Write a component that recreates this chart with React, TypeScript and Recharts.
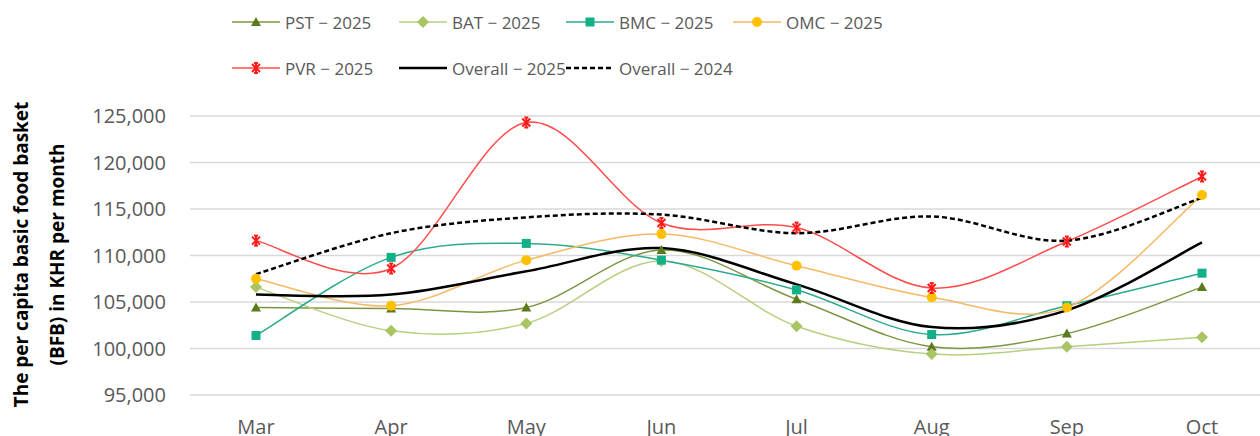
import { LineChart, Line, XAxis, YAxis, CartesianGrid } from "recharts";

const months = ["Mar", "Apr", "May", "Jun", "Jul", "Aug", "Sep", "Oct"];
const pst2025 = [104400, 104300, 104400, 110600, 105300, 100200, 101600, 106600];
const bat2025 = [106600, 101900, 102700, 109400, 102400, 99400, 100200, 101200];
const bmc2025 = [101400, 109800, 111300, 109500, 106300, 101500, 104600, 108100];
const omc2025 = [107500, 104600, 109500, 112300, 108900, 105500, 104400, 116500];
const pvr2025 = [111600, 108600, 124300, 113500, 113000, 106500, 111500, 118500];
const overall2025 = [105800, 105800, 108300, 110800, 106900, 102300, 104100, 111400];
const overall2024 = [108000, 112400, 114100, 114400, 112400, 114200, 111600, 116200];
const yTicks = [95000, 100000, 105000, 110000, 115000, 120000, 125000];

const data = months.map((m, i) => ({
  month: m,
  pst: pst2025[i],
  bat: bat2025[i],
  bmc: bmc2025[i],
  omc: omc2025[i],
  pvr: pvr2025[i],
  all25: overall2025[i],
  all24: overall2024[i],
}));

// Excel-like smoothed line (Catmull-Rom style bezier)
const excelSmooth = (context: any) => {
  let pts: number[][] = [];
  return {
    areaStart() {},
    areaEnd() {},
    lineStart() {
      pts = [];
    },
    point(x: number, y: number) {
      pts.push([+x, +y]);
    },
    lineEnd() {
      if (!pts.length) return;
      context.moveTo(pts[0][0], pts[0][1]);
      for (let i = 0; i < pts.length - 1; i++) {
        const p0 = pts[i - 1] || pts[i];
        const p1 = pts[i];
        const p2 = pts[i + 1];
        const p3 = pts[i + 2] || p2;
        context.bezierCurveTo(
          p1[0] + (p2[0] - p0[0]) / 6,
          p1[1] + (p2[1] - p0[1]) / 6,
          p2[0] - (p3[0] - p1[0]) / 6,
          p2[1] - (p3[1] - p1[1]) / 6,
          p2[0],
          p2[1]
        );
      }
    },
  };
};

const Marker = ({ kind, cx, cy, color }: any) => {
  if (kind === "triangle")
    return <polygon points={`${cx},${cy - 5} ${cx + 5},${cy + 4} ${cx - 5},${cy + 4}`} fill={color} />;
  if (kind === "diamond")
    return <polygon points={`${cx},${cy - 6} ${cx + 6},${cy} ${cx},${cy + 6} ${cx - 6},${cy}`} fill={color} />;
  if (kind === "square") return <rect x={cx - 4.5} y={cy - 4.5} width={9} height={9} fill={color} />;
  if (kind === "circle") return <circle cx={cx} cy={cy} r={5} fill={color} />;
  if (kind === "star")
    return (
      <g stroke={color} strokeWidth={2}>
        <line x1={cx - 4} y1={cy - 4} x2={cx + 4} y2={cy + 4} />
        <line x1={cx - 4} y1={cy + 4} x2={cx + 4} y2={cy - 4} />
        <line x1={cx} y1={cy - 5} x2={cx} y2={cy + 5} />
        <line x1={cx - 2} y1={cy - 5} x2={cx + 2} y2={cy - 5} />
        <line x1={cx - 2} y1={cy + 5} x2={cx + 2} y2={cy + 5} />
      </g>
    );
  return null;
};

const series = [
  { key: "pst", name: "PST − 2025", line: "#7b9640", mark: "#5b7a1e", kind: "triangle", w: 1.5 },
  { key: "bat", name: "BAT − 2025", line: "#b8cf80", mark: "#a9c462", kind: "diamond", w: 1.5 },
  { key: "bmc", name: "BMC − 2025", line: "#2bab8b", mark: "#12b088", kind: "square", w: 1.5 },
  { key: "omc", name: "OMC − 2025", line: "#f7b866", mark: "#ffc000", kind: "circle", w: 1.5 },
  { key: "pvr", name: "PVR − 2025", line: "#ff4d4d", mark: "#ff1a1a", kind: "star", w: 1.5 },
  { key: "all25", name: "Overall − 2025", line: "#000000", mark: "", kind: "", w: 2.5 },
  { key: "all24", name: "Overall − 2024", line: "#000000", mark: "", kind: "", w: 2.5, dash: "5 3" },
];

const AxisTitle = ({ viewBox }: any) => {
  const cy = viewBox.y + viewBox.height / 2 - 1;
  return (
    <g fontWeight="bold" fontSize={19} fill="#000" textAnchor="middle">
      <text x={21} y={cy} transform={`rotate(-90 21 ${cy})`} dominantBaseline="central">
        The per capita basic food basket
      </text>
      <text x={57} y={cy} transform={`rotate(-90 57 ${cy})`} dominantBaseline="central">
        (BFB) in KHR per month
      </text>
    </g>
  );
};

const LegendBox = () => (
  <div style={{ position: "absolute", left: 0, top: 0, width: 1260, height: 90 }}>
    {series.map((s, i) => {
      const row = i < 4 ? 0 : 1;
      const col = i < 4 ? i : i - 4;
      return (
        <div
          key={s.key}
          style={{
            position: "absolute",
            left: 231 + col * 167,
            top: (row === 0 ? 22 : 68) - 12,
            height: 24,
            display: "flex",
            alignItems: "center",
            whiteSpace: "nowrap",
          }}
        >
          <svg width={50} height={24}>
            <line x1={1} y1={12} x2={49} y2={12} stroke={s.line} strokeWidth={s.w} strokeDasharray={s.dash} />
            {s.kind && <Marker kind={s.kind} cx={25} cy={12} color={s.mark} />}
          </svg>
          <span style={{ marginLeft: 4, fontSize: 17, color: "#595959" }}>{s.name}</span>
        </div>
      );
    })}
  </div>
);

export default function App() {
  return (
    <div
      style={{
        position: "absolute",
        left: 0,
        top: 0,
        width: 1260,
        height: 436,
        overflow: "hidden",
        background: "#fff",
        fontFamily: '"Open Sans", sans-serif',
      }}
    >
      <LineChart width={1260} height={436} data={data} margin={{ top: 116, right: 0, bottom: 0, left: 0 }}>
        <CartesianGrid vertical={false} stroke="#d9d9d9" strokeWidth={1.5} />
        <XAxis
          dataKey="month"
          axisLine={false}
          tickLine={false}
          tickSize={0}
          tickMargin={25}
          height={41}
          padding={{ left: 66, right: 58 }}
          tick={{ fill: "#595959", fontSize: 20 }}
        />
        <YAxis
          domain={[95000, 125000]}
          ticks={yTicks}
          width={190}
          axisLine={false}
          tickLine={false}
          tickSize={0}
          tickMargin={24}
          tickFormatter={(v: number) => v.toLocaleString("en-US")}
          tick={{ fill: "#595959", fontSize: 20 }}
          label={{ content: (p: any) => <AxisTitle viewBox={p.viewBox} /> }}
        />
        {series.map((s) => (
          <Line
            key={s.key}
            dataKey={s.key}
            name={s.name}
            type={excelSmooth as any}
            stroke={s.line}
            strokeWidth={s.w}
            strokeDasharray={s.dash}
            isAnimationActive={false}
            activeDot={false}
            dot={
              s.kind
                ? (p: any) => <Marker key={`${s.key}-${p.index}`} kind={s.kind} cx={p.cx} cy={p.cy} color={s.mark} />
                : false
            }
          />
        ))}
      </LineChart>
      <LegendBox />
    </div>
  );
}
